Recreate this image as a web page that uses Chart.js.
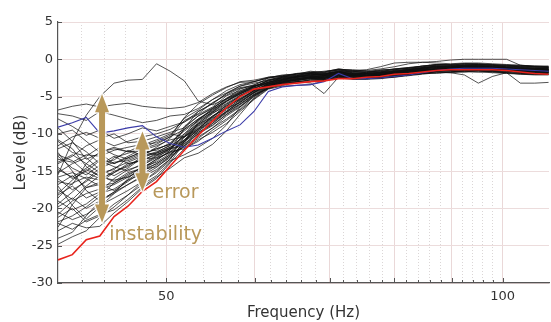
<!DOCTYPE html>
<html>
<head>
<meta charset="utf-8">
<script src="https://cdn.jsdelivr.net/npm/chart.js@4/dist/chart.umd.min.js"></script>
<style>
  html, body { margin: 0; padding: 0; background: #fff; }
  canvas { display: block; }
</style>
</head>
<body>
<canvas id="levelChart" width="551" height="322"></canvas>
<script>
// frequency points (Hz), roughly 1/24 octave
const freqs = [40, 41.2, 42.4, 43.6, 44.9, 46.2, 47.6, 49, 50.4, 51.9, 53.4, 55, 56.6, 58.2, 59.9, 61.7, 63.5, 65.4,
    67.3, 69.2, 71.3, 73.4, 75.5, 77.7, 80, 82.4, 84.8, 87.2, 89.8, 92.4, 95.1, 97.9, 100.8, 103.7, 106.8, 109.9];

const gridFreqs = [42, 44, 46, 48, 50, 52, 54, 56, 58, 60, 62, 64, 66, 68, 70, 72, 74, 76, 78, 80,
    82, 84, 86, 88, 90, 92, 94, 96, 98, 100];
const majorFreqs = [50, 60, 70, 80, 90, 100];
const labelFreqs = [50, 100];
const levelTicks = [5, 0, -5, -10, -15, -20, -25, -30];

const redRun = [-26.9, -26.2, -24.2, -23.7, -21.1, -19.7, -17.7, -16.4, -14.3, -12.2, -10.2, -8.3, -6.5, -5.0, -4.0, -3.7, -3.4, -3.2,
    -3.0, -2.9, -2.6, -2.6, -2.4, -2.3, -2.0, -1.9, -1.7, -1.5, -1.4, -1.4, -1.4, -1.4, -1.5, -1.7, -1.9, -2.0];
const blueRun = [-9.1, -8.5, -7.8, -9.9, -9.6, -9.2, -8.9, -10.4, -11.3, -11.8, -11.5, -10.6, -9.6, -8.8, -7.0, -4.3, -3.7, -3.5,
    -3.4, -3.0, -1.9, -2.6, -2.6, -2.5, -2.3, -2.1, -1.8, -1.5, -1.3, -1.2, -1.2, -1.2, -1.3, -1.4, -1.5, -1.6];

const run01 = [-15.5, -11, -7.5, -5, -3.2, -2.8, -2.7, -0.6, -1.6, -2.9, -5.6, -6.1, -5.3, -4.4, -3.7, -2.9, -2.4, -2.3, -2.1, -2.0, -1.7, -2.0, -1.9, -1.8, -1.6, -1.4, -1.2, -1.0, -1.0, -1.0, -0.9, -1.0, -1.1, -1.2, -1.3, -1.3];
const run02 = [-6.8, -6.3, -6.0, -6.4, -6.1, -5.9, -6.3, -6.5, -6.6, -6.4, -5.8, -4.6, -3.7, -3.1, -3.0, -2.5, -2.3, -2.0, -1.6, -1.8, -1.4, -1.6, -1.8, -1.5, -1.3, -1.1, -1.0, -0.7, -0.7, -0.6, -0.6, -0.8, -0.8, -0.9, -1.0, -1.0];
const run03 = [-7.3, -7.6, -8.2, -7.0, -7.5, -8.0, -8.5, -8.2, -7.6, -7.4, -6.6, -5.4, -4.5, -3.6, -3.2, -2.8, -2.5, -2.4, -2.0, -2.0, -1.4, -1.8, -1.8, -1.7, -1.7, -1.3, -1.1, -0.9, -1.0, -0.8, -0.8, -0.9, -1.0, -1.0, -1.2, -1.2];
const run04 = [-8.0, -9.0, -10.2, -9.5, -10.6, -10.0, -9.2, -9.6, -9.0, -8.4, -7.4, -6.4, -4.9, -4.2, -3.6, -3.1, -2.7, -2.4, -2.2, -2.0, -1.8, -2.0, -2.0, -2.1, -1.7, -1.5, -1.3, -1.3, -1.1, -1.0, -1.0, -1.1, -1.2, -1.3, -1.3, -1.4];
const run05 = [-10.0, -9.5, -11.0, -12.5, -11.8, -12.4, -11.5, -10.8, -10.0, -10.4, -9.2, -7.9, -6.8, -5.4, -4.4, -3.5, -3.2, -2.7, -2.5, -2.5, -2.1, -2.1, -2.3, -2.2, -2.0, -1.9, -1.6, -1.4, -1.4, -1.3, -1.2, -1.4, -1.5, -1.6, -1.7, -1.7];
const run06 = [-11.0, -12.5, -13.0, -11.8, -12.8, -13.4, -12.6, -12.0, -11.4, -9.4, -8.0, -6.9, -5.4, -4.6, -3.8, -3.3, -2.7, -2.4, -2.0, -2.2, -1.8, -2.0, -2.2, -1.9, -1.7, -1.5, -1.2, -1.1, -1.1, -1.0, -1.0, -1.1, -1.1, -1.3, -1.4, -1.4];
const run07 = [-12.0, -11.2, -12.4, -14.0, -13.5, -12.2, -12.9, -11.8, -10.6, -8.2, -7.3, -5.8, -4.8, -3.9, -3.6, -3.2, -2.8, -2.3, -2.3, -2.3, -2.0, -2.1, -2.1, -2.0, -1.9, -1.6, -1.4, -1.2, -1.2, -1.2, -1.1, -1.2, -1.3, -1.4, -1.5, -1.6];
const run08 = [-13.0, -14.6, -15.5, -14.2, -13.0, -14.0, -13.6, -12.6, -11.8, -11.0, -9.8, -8.6, -7.2, -6.0, -4.7, -3.6, -3.1, -2.8, -2.6, -2.8, -2.2, -2.4, -2.2, -2.3, -2.1, -1.9, -1.7, -1.6, -1.5, -1.4, -1.4, -1.5, -1.6, -1.6, -1.8, -1.8];
const run09 = [-13.8, -12.8, -14.0, -15.2, -14.8, -13.2, -12.4, -12.2, -11.2, -9.6, -8.2, -7.1, -5.6, -4.7, -3.7, -2.8, -2.3, -2.2, -2.0, -2.0, -1.6, -1.6, -1.8, -1.7, -1.5, -1.4, -1.1, -0.9, -0.9, -0.8, -0.9, -0.9, -1.0, -1.1, -1.2, -1.3];
const run10 = [-14.5, -16.0, -15.0, -13.6, -14.4, -15.0, -14.0, -12.9, -12.0, -11.6, -10.4, -9.2, -7.6, -6.4, -5.0, -3.7, -3.2, -2.9, -2.5, -2.7, -2.3, -2.5, -2.5, -2.2, -2.2, -2.0, -1.8, -1.6, -1.4, -1.5, -1.5, -1.6, -1.5, -1.8, -1.9, -1.9];
const run11 = [-15.2, -14.0, -13.2, -14.8, -15.6, -14.6, -13.2, -12.5, -11.5, -9.0, -7.6, -6.5, -5.3, -4.0, -3.4, -2.7, -2.4, -1.9, -1.9, -1.9, -1.7, -1.7, -1.7, -1.6, -1.4, -1.2, -0.9, -0.8, -0.8, -0.7, -0.7, -0.9, -0.9, -1.0, -1.1, -1.1];
const run12 = [-16.0, -17.5, -16.4, -15.0, -13.2, -12.6, -12.0, -11.4, -10.4, -7.8, -6.0, -4.8, -3.8, -3.0, -2.8, -2.4, -2.2, -1.9, -1.7, -1.7, -1.3, -1.5, -1.4, -1.0, -0.5, -0.4, -0.4, -0.5, -0.6, -0.5, -0.5, -0.6, -0.7, -0.8, -0.9, -0.9];
const run13 = [-16.8, -15.6, -17.2, -16.5, -15.2, -14.0, -13.5, -12.8, -11.9, -10.2, -8.7, -7.7, -6.2, -5.4, -4.2, -3.3, -2.7, -2.6, -2.4, -2.4, -1.7, -2.2, -2.2, -2.1, -1.9, -1.5, -1.5, -1.3, -1.3, -1.3, -1.2, -1.3, -1.4, -1.5, -1.5, -1.6];
const run14 = [-17.5, -18.8, -17.0, -15.6, -16.4, -15.2, -14.6, -13.4, -12.4, -12.0, -11.0, -9.5, -8.2, -6.8, -5.3, -3.9, -3.3, -3.0, -3.0, -2.8, -2.4, -2.4, -2.6, -2.5, -2.3, -2.1, -1.9, -1.9, -1.7, -1.6, -1.5, -1.7, -1.8, -1.9, -2.0, -2.0];
const run15 = [-18.2, -17.0, -18.6, -17.8, -16.0, -14.8, -14.2, -13.0, -12.2, -10.0, -8.6, -7.2, -6.3, -4.9, -4.1, -3.5, -3.0, -2.5, -2.5, -2.5, -2.3, -2.3, -2.3, -2.0, -2.0, -1.8, -1.6, -1.4, -1.5, -1.3, -1.3, -1.4, -1.5, -1.7, -1.7, -1.7];
const run16 = [-19.0, -20.2, -19.4, -18.0, -17.4, -16.2, -15.4, -14.2, -13.0, -11.6, -9.8, -8.8, -7.4, -6.1, -4.8, -3.9, -3.3, -3.0, -3.2, -4.6, -2.4, -2.6, -2.6, -2.5, -2.3, -2.1, -1.9, -1.7, -1.7, -1.6, -1.7, -1.6, -1.8, -1.9, -2.0, -2.0];
const run17 = [-19.8, -18.6, -20.0, -19.0, -17.8, -16.8, -15.6, -14.5, -13.0, -10.4, -8.2, -6.6, -5.3, -4.5, -3.6, -3.1, -2.6, -2.3, -2.1, -1.9, -1.7, -1.9, -1.9, -1.8, -1.8, -1.4, -1.2, -1.0, -0.9, -0.9, -0.9, -1.0, -1.1, -1.2, -1.2, -1.3];
const run18 = [-20.5, -21.5, -20.8, -19.6, -18.6, -17.6, -16.4, -15.0, -13.4, -11.0, -9.4, -8.0, -6.6, -5.8, -4.5, -3.6, -2.9, -2.8, -2.6, -2.6, -2.2, -2.6, -2.4, -2.3, -2.1, -1.9, -1.5, -1.5, -1.5, -1.4, -1.4, -1.4, -1.6, -1.7, -1.8, -1.8];
const run19 = [-21.2, -20.0, -21.8, -21.0, -19.4, -18.2, -16.8, -15.6, -13.8, -11.2, -8.6, -7.1, -5.9, -4.8, -4.0, -3.0, -2.8, -2.5, -2.5, -2.3, -1.9, -2.1, -1.9, -2.0, -1.8, -1.6, -1.4, -1.3, -1.2, -1.1, -1.1, -1.2, -1.2, -1.4, -1.5, -1.5];
const run20 = [-22.0, -22.8, -21.6, -20.8, -20.2, -18.8, -17.1, -15.8, -14.6, -13.2, -12.6, -11.4, -9.6, -7.4, -5.2, -3.7, -3.2, -3.1, -2.7, -2.7, -2.5, -2.5, -2.5, -2.4, -2.0, -2.0, -1.8, -1.6, -1.6, -1.7, -1.5, -1.6, -1.7, -1.8, -1.9, -1.8];
const run21 = [-23.0, -22.0, -22.6, -22.4, -20.6, -19.1, -17.3, -16.0, -13.9, -12.0, -10.8, -9.8, -8.6, -7.0, -5.4, -4.0, -3.6, -3.5, -3.4, -2.9, -2.5, -2.7, -2.7, -2.6, -2.4, -2.2, -2.0, -1.8, -1.8, -1.7, -1.7, -1.8, -1.9, -2.0, -2.1, -2.1];
const run22 = [-24.0, -23.2, -21.0, -19.0, -18.0, -16.8, -15.8, -14.8, -13.4, -11.0, -8.4, -7.0, -5.7, -4.6, -3.9, -3.1, -2.5, -2.4, -2.2, -2.2, -1.6, -2.0, -2.0, -1.9, -1.7, -1.7, -1.3, -1.1, -1.1, -1.0, -0.9, -1.1, -1.2, -1.4, -1.4, -1.4];
const run23 = [-22.5, -19.5, -17.2, -16.8, -17.6, -16.4, -15.0, -14.0, -12.8, -10.8, -9.6, -8.1, -7.0, -5.6, -4.5, -3.2, -2.4, -2.1, -1.9, -2.1, -1.5, -1.7, -1.7, -1.4, -1.4, -1.2, -1.0, -0.8, -0.8, -0.8, -0.7, -0.8, -0.9, -1.0, -1.0, -1.1];
const run24 = [-12.5, -15.0, -17.6, -19.0, -17.8, -16.2, -14.8, -13.6, -12.2, -9.2, -7.0, -6.0, -4.6, -3.8, -3.5, -3.3, -2.9, -2.8, -2.4, -2.4, -2.0, -2.0, -2.2, -2.1, -1.9, -1.7, -1.6, -1.3, -1.3, -1.2, -1.2, -1.2, -1.4, -1.5, -1.6, -1.6];
const run25 = [-17.0, -19.6, -21.4, -19.8, -18.0, -16.0, -14.2, -13.2, -12.0, -11.3, -10.0, -8.9, -7.4, -6.3, -4.9, -3.6, -2.8, -2.3, -1.9, -2.1, -1.7, -1.9, -2.1, -1.8, -1.6, -1.4, -1.2, -0.9, -1.0, -0.9, -0.9, -1.0, -1.2, -1.2, -1.3, -1.3];
const run26 = [-9.2, -11.0, -13.4, -12.6, -14.0, -13.0, -12.0, -11.0, -10.2, -7.9, -6.8, -5.4, -4.2, -3.4, -3.0, -2.5, -2.3, -2.2, -1.8, -1.8, -1.4, -1.4, -1.6, -1.5, -1.3, -1.2, -0.9, -0.7, -0.7, -0.6, -0.7, -0.7, -0.8, -0.9, -1.0, -1.1];
const run27 = [-14.0, -13.0, -11.6, -10.8, -11.6, -11.0, -10.4, -10.0, -9.4, -8.4, -7.0, -5.9, -4.6, -3.6, -3.0, -2.4, -2.2, -2.0, -1.8, -1.7, -1.3, -1.5, -1.5, -1.3, -1.0, -0.6, -0.4, -0.3, -0.1, 0.0, 0.0, 0.0, 0.0, -0.8, -0.9, -1.0];
const run28 = [-18.6, -16.6, -15.8, -16.2, -15.0, -14.4, -13.0, -12.4, -11.6, -10.4, -8.9, -7.6, -6.5, -5.2, -4.3, -3.5, -3.0, -2.7, -2.3, -2.5, -2.1, -2.3, -2.5, -2.2, -2.0, -1.8, -1.7, -1.4, -1.4, -1.3, -1.3, -1.3, -1.5, -1.6, -1.7, -1.7];
const run29 = [-15.8, -15.2, -16.0, -17.0, -16.6, -15.6, -14.4, -13.8, -12.6, -11.8, -10.6, -9.2, -8.0, -6.7, -5.0, -3.9, -3.5, -3.0, -2.8, -2.8, -2.2, -2.6, -2.6, -2.5, -2.4, -2.1, -1.9, -1.7, -1.7, -1.5, -1.6, -1.7, -1.8, -2.0, -2.0, -2.0];
const run30 = [-11.6, -10.4, -9.8, -10.6, -10.0, -11.2, -11.0, -10.4, -9.8, -9.2, -7.6, -6.6, -5.2, -4.3, -3.5, -2.5, -2.1, -2.0, -1.8, -1.6, -1.4, -1.6, -1.6, -1.7, -1.3, -1.1, -0.9, -0.7, -0.8, -0.6, -0.6, -0.7, -0.8, -0.8, -1.0, -1.0];
const run31 = [-20.8, -19.0, -18.0, -17.4, -16.8, -15.8, -14.8, -14.0, -12.8, -11.4, -9.6, -8.4, -7.1, -6.0, -4.7, -3.8, -3.1, -2.8, -2.6, -2.6, -2.0, -2.4, -2.4, -2.3, -2.1, -2.0, -1.7, -1.5, -1.5, -1.4, -1.3, -1.5, -1.6, -1.7, -1.9, -1.8];
const run32 = [-13.4, -13.8, -12.8, -13.0, -12.2, -11.8, -11.4, -11.2, -10.4, -9.4, -8.0, -6.7, -5.6, -4.4, -3.7, -2.8, -2.5, -2.2, -1.8, -2.0, -1.6, -1.8, -2.0, -1.7, -1.5, -1.3, -1.1, -1.0, -0.9, -0.8, -0.8, -0.8, -1.0, -1.1, -1.2, -1.2];
const run33 = [-16.4, -16.8, -14.0, -12.4, -12.0, -12.4, -12.2, -11.6, -10.8, -10.4, -9.4, -7.6, -6.6, -5.5, -4.2, -3.3, -3.1, -2.6, -2.4, -2.2, -2.0, -2.2, -2.2, -2.1, -1.7, -1.7, -1.5, -1.3, -1.4, -1.2, -1.2, -1.3, -1.4, -1.5, -1.6, -1.5];
const run34 = [-24.8, -23.8, -23.0, -21.2, -19.8, -18.2, -16.4, -15.2, -13.6, -12.8, -11.8, -10.6, -8.8, -6.4, -4.8, -3.9, -3.3, -3.0, -2.8, -2.8, -2.4, -2.6, -2.6, -2.5, -2.3, -2.1, -1.9, -1.7, -1.8, -2.1, -3.2, -2.3, -1.8, -3.2, -3.2, -3.1];
const run35 = [-18.0, -16.2, -14.8, -15.6, -14.6, -13.8, -13.0, -12.6, -11.8, -10.8, -9.0, -7.8, -6.4, -5.3, -4.2, -3.4, -2.9, -2.6, -2.4, -2.2, -1.9, -2.2, -2.0, -2.0, -1.8, -1.5, -1.4, -1.2, -1.2, -1.0, -1.1, -1.2, -1.2, -1.4, -1.5, -1.4];
const run36 = [-12.8, -13.6, -15.2, -16.0, -15.2, -14.2, -13.4, -13.2, -12.5, -11.0, -9.4, -8.3, -7.0, -5.7, -4.4, -3.4, -3.0, -2.7, -2.5, -2.4, -2.1, -2.2, -2.3, -2.1, -1.9, -1.8, -1.5, -1.4, -1.3, -1.2, -1.2, -1.3, -1.4, -1.5, -1.6, -1.6];
const run37 = [-21.8, -21.0, -19.8, -18.4, -16.6, -15.4, -14.6, -13.4, -12.4, -10.8, -9.3, -7.7, -6.1, -4.9, -3.9, -3.1, -2.7, -2.4, -2.2, -2.2, -1.8, -2.0, -1.9, -1.9, -1.6, -1.5, -1.3, -1.1, -1.1, -1.0, -1.0, -1.1, -1.2, -1.3, -1.4, -1.4];
const run38 = [-10.8, -12.0, -14.4, -15.8, -16.2, -15.8, -14.8, -14.4, -13.2, -11.6, -10.0, -8.6, -7.0, -5.8, -4.5, -3.6, -3.1, -2.8, -2.5, -2.6, -2.1, -2.3, -2.2, -2.1, -1.9, -1.7, -1.6, -1.4, -1.3, -1.3, -1.2, -1.3, -1.4, -1.5, -1.6, -1.7];
const run39 = [-19.4, -17.8, -16.2, -14.6, -13.8, -13.6, -12.8, -12.0, -11.4, -10.0, -8.1, -6.8, -5.6, -4.6, -3.6, -2.9, -2.6, -2.4, -2.1, -2.1, -1.7, -1.9, -1.9, -1.8, -1.6, -1.4, -1.2, -1.0, -1.0, -0.9, -0.9, -1.0, -1.1, -1.2, -1.3, -1.3];
const run40 = [-14.8, -15.8, -14.6, -13.4, -14.0, -13.2, -12.4, -12.8, -12.0, -10.4, -8.8, -7.3, -6.0, -5.0, -4.1, -3.3, -2.8, -2.6, -2.3, -2.4, -2.0, -2.1, -2.1, -2.0, -1.8, -1.6, -1.4, -1.3, -1.2, -1.1, -1.1, -1.2, -1.3, -1.4, -1.5, -1.5];

const blackRuns = [run01, run02, run03, run04, run05, run06, run07, run08, run09, run10,
    run11, run12, run13, run14, run15, run16, run17, run18, run19, run20,
    run21, run22, run23, run24, run25, run26, run27, run28, run29, run30,
    run31, run32, run33, run34, run35, run36, run37, run38, run39, run40];

// annotation anchors in data units: [freq, top level, bottom level]
const instabilityArrow = [43.8, -4.7, -21.9];
const errorArrow = [47.6, -9.7, -17.7];
const instabilityLabel = [44.45, -23.6];
const errorLabel = [48.6, -17.9];

const gold = '#b8985a';

function toPoints(values) {
    return freqs.map((f, i) => ({ x: f, y: values[i] }));
}

function drawArrow(ctx, x, yTop, yBottom) {
    const shaft = 3, head = 7, headLen = 18;
    ctx.beginPath();
    ctx.moveTo(x, yTop);
    ctx.lineTo(x + head, yTop + headLen);
    ctx.lineTo(x + shaft, yTop + headLen);
    ctx.lineTo(x + shaft, yBottom - headLen);
    ctx.lineTo(x + head, yBottom - headLen);
    ctx.lineTo(x, yBottom);
    ctx.lineTo(x - head, yBottom - headLen);
    ctx.lineTo(x - shaft, yBottom - headLen);
    ctx.lineTo(x - shaft, yTop + headLen);
    ctx.lineTo(x - head, yTop + headLen);
    ctx.closePath();
    ctx.strokeStyle = 'rgba(255,255,255,0.85)';
    ctx.lineWidth = 3;
    ctx.lineJoin = 'round';
    ctx.stroke();
    ctx.fillStyle = gold;
    ctx.fill();
}

const annotationPlugin = {
    id: 'annotations',
    afterDatasetsDraw(chart) {
        const { ctx, scales: { x, y } } = chart;
        ctx.save();
        drawArrow(ctx, x.getPixelForValue(instabilityArrow[0]), y.getPixelForValue(instabilityArrow[1]), y.getPixelForValue(instabilityArrow[2]));
        drawArrow(ctx, x.getPixelForValue(errorArrow[0]), y.getPixelForValue(errorArrow[1]), y.getPixelForValue(errorArrow[2]));
        ctx.fillStyle = gold;
        ctx.font = '19px "DejaVu Sans"';
        ctx.textBaseline = 'middle';
        ctx.textAlign = 'left';
        ctx.fillText('error', x.getPixelForValue(errorLabel[0]), y.getPixelForValue(errorLabel[1]));
        ctx.fillText('instability', x.getPixelForValue(instabilityLabel[0]), y.getPixelForValue(instabilityLabel[1]));
        ctx.restore();
    }
};

// small tick marks pointing into the plot
const innerTicksPlugin = {
    id: 'innerTicks',
    afterDraw(chart) {
        const { ctx, chartArea, scales: { x, y } } = chart;
        ctx.save();
        ctx.strokeStyle = '#555';
        ctx.lineWidth = 1;
        ctx.beginPath();
        gridFreqs.forEach((f) => {
            const px = Math.round(x.getPixelForValue(f)) + 0.5;
            const len = majorFreqs.includes(f) ? 5 : 3;
            ctx.moveTo(px, chartArea.bottom);
            ctx.lineTo(px, chartArea.bottom - len);
        });
        levelTicks.forEach((v) => {
            const py = Math.round(y.getPixelForValue(v)) + 0.5;
            ctx.moveTo(chartArea.left, py);
            ctx.lineTo(chartArea.left + 4, py);
        });
        ctx.stroke();
        ctx.restore();
    }
};

const datasets = [
    { data: toPoints(redRun), borderColor: '#e8231c', borderWidth: 1.6, order: 0 },
    { data: toPoints(blueRun), borderColor: '#3b3ba8', borderWidth: 1.1, order: 1 }
];
blackRuns.forEach((run) => {
    datasets.push({ data: toPoints(run), borderColor: 'rgba(15,15,15,0.85)', borderWidth: 0.85, order: 2 });
});

Chart.defaults.font.family = '"DejaVu Sans", Verdana, sans-serif';
Chart.defaults.color = '#333';

new Chart(document.getElementById('levelChart').getContext('2d'), {
    type: 'line',
    data: { datasets },
    options: {
        responsive: false,
        animation: false,
        devicePixelRatio: 1,
        layout: { padding: { top: 22, right: 2, left: 0, bottom: 0 } },
        elements: { point: { radius: 0 }, line: { tension: 0 } },
        plugins: { legend: { display: false }, tooltip: { enabled: false } },
        scales: {
            x: {
                type: 'logarithmic',
                min: 40,
                max: 110,
                afterBuildTicks: (scale) => {
                    scale.ticks = gridFreqs.map((v) => ({ value: v }));
                },
                afterFit: (scale) => { scale.height = 39; },
                ticks: {
                    autoSkip: false,
                    maxRotation: 0,
                    padding: 6,
                    font: { size: 13 },
                    color: '#333',
                    callback: (value) => (labelFreqs.includes(value) ? String(value) : '')
                },
                grid: {
                    drawTicks: false,
                    lineWidth: 1,
                    color: (ctx) => (ctx.tick && majorFreqs.includes(ctx.tick.value) ? '#ead8d8' : 'rgba(190,180,180,0.55)')
                },
                border: {
                    color: '#555',
                    width: 1.2,
                    dash: (ctx) => (ctx.tick && !majorFreqs.includes(ctx.tick.value) ? [1, 2] : [])
                },
                title: {
                    display: true,
                    text: 'Frequency (Hz)',
                    font: { size: 15 },
                    color: '#333',
                    padding: { top: 0, bottom: 0 }
                }
            },
            y: {
                min: -30,
                max: 5,
                afterBuildTicks: (scale) => {
                    scale.ticks = levelTicks.map((v) => ({ value: v }));
                },
                afterFit: (scale) => { scale.width = 58; },
                ticks: { padding: 5, font: { size: 13 }, color: '#333' },
                grid: { drawTicks: false, color: '#ecdcdc', lineWidth: 1 },
                border: { color: '#555', width: 1.2 },
                title: {
                    display: true,
                    text: 'Level (dB)',
                    font: { size: 15 },
                    color: '#333',
                    padding: { top: 12, bottom: 0 }
                }
            }
        }
    },
    plugins: [annotationPlugin, innerTicksPlugin]
});
</script>
</body>
</html>
